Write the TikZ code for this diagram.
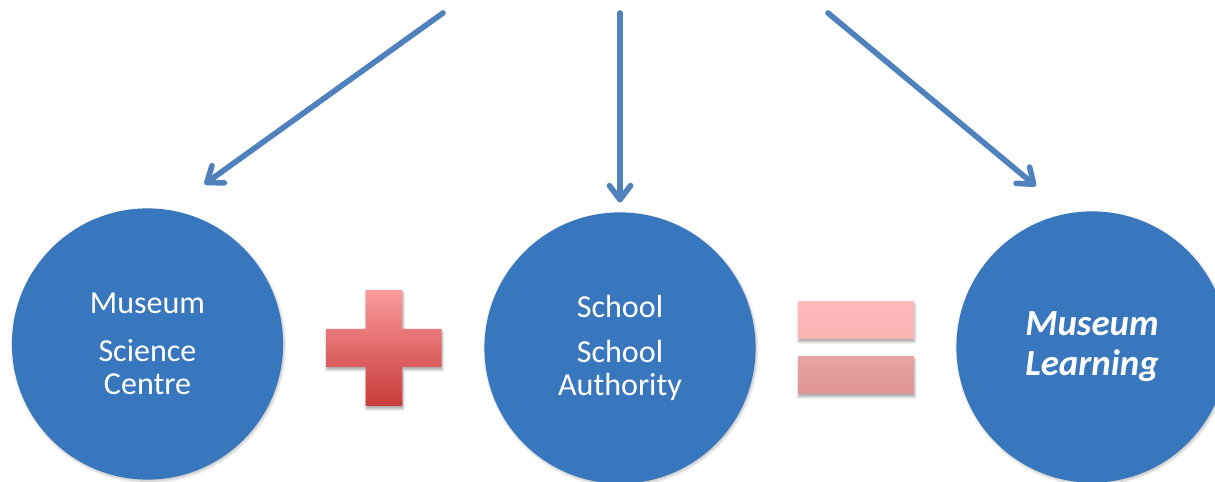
\documentclass[tikz,border=0pt]{standalone}
\usepackage{fontspec}
\setmainfont{Carlito}
\usetikzlibrary{arrows.meta,shadows.blur}

\definecolor{discblue}{RGB}{56,119,190}
\definecolor{arrowblue}{RGB}{79,129,189}
\definecolor{plustop}{RGB}{250,155,155}
\definecolor{plusbot}{RGB}{200,58,58}
\definecolor{eqtop}{RGB}{253,188,188}
\definecolor{eqtopb}{RGB}{250,180,180}
\definecolor{eqbot}{RGB}{232,163,163}
\definecolor{eqbotb}{RGB}{222,150,150}

\begin{document}
\begin{tikzpicture}[
  disc/.style={circle, fill=discblue, text=white, minimum size=6.78cm, inner sep=0pt,
    align=center, font=\fontsize{22.8}{23.3}\selectfont,
    blur shadow={shadow xshift=0.8pt, shadow yshift=-1.2pt, shadow opacity=25, shadow blur steps=6}},
  feed/.style={draw=arrowblue, line width=4pt, line cap=round,
    -{Straight Barb[length=10pt,width=15pt,round]}},
  sign/.style={blur shadow={shadow xshift=0.5pt, shadow yshift=-2pt, shadow opacity=35, shadow blur steps=5}},
]
\useasboundingbox (0,0) rectangle (30.375,12.05);

\node[disc] (museum) at (3.6875,3.45) {Museum\\[11pt]Science\\Centre};
\node[disc] (school) at (15.5,3.35) {School\\[9pt]School\\Authority};
\node[disc, font=\fontsize{26.2}{28.5}\selectfont\bfseries\itshape] (learning) at (27.3,3.375) {Museum\\Learning};

\coordinate (fromL) at (11.075,11.725);
\coordinate (fromM) at (15.5,11.725);
\coordinate (fromR) at (20.7,11.725);

\draw[feed, shorten >=1.1cm] (fromL) -- (museum.81);
\draw[feed, shorten >=0.24cm] (fromM) -- (school.north);
\draw[feed, shorten >=1.06cm] (fromR) -- (learning.100);

\shade[sign, top color=plustop, bottom color=plusbot]
  (9.14,4.8) -- (10.06,4.8) -- (10.06,3.825) -- (11.04,3.825) -- (11.04,2.875)
  -- (10.06,2.875) -- (10.06,1.9) -- (9.14,1.9) -- (9.14,2.875) -- (8.15,2.875)
  -- (8.15,3.825) -- (9.14,3.825) -- cycle;

\shade[sign, top color=eqtop, bottom color=eqtopb] (19.95,3.575) rectangle (22.85,4.5);
\shade[sign, top color=eqbot, bottom color=eqbotb] (19.95,2.2) rectangle (22.85,3.125);

\end{tikzpicture}
\end{document}
